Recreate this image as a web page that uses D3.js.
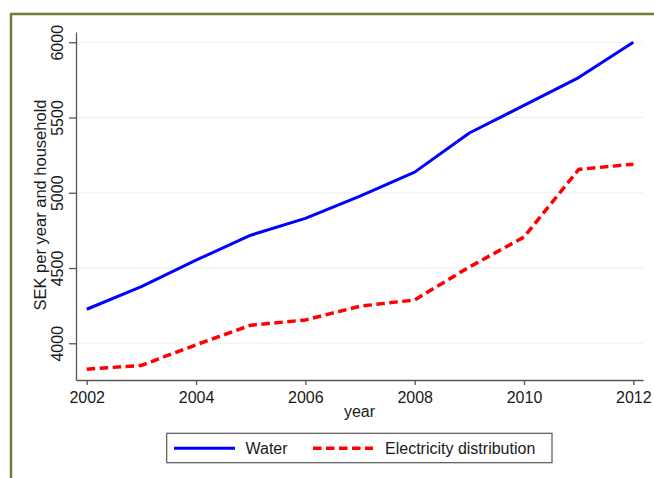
<!DOCTYPE html>
<html>
<head>
<meta charset="utf-8">
<script src="https://cdn.jsdelivr.net/npm/d3@7"></script>
<style>
  body { margin: 0; background: #fff; }
  text { font-family: "Liberation Sans", Arial, sans-serif; fill: #1a1a1a; }
</style>
</head>
<body>
<script>
// data
const years = [2002, 2003, 2004, 2005, 2006, 2007, 2008, 2009, 2010, 2011, 2012];
const water = [4226, 4376, 4552, 4718, 4830, 4978, 5137, 5397, 5580, 5765, 6000];
const electricity = [3828, 3853, 3990, 4120, 4155, 4246, 4288, 4507, 4706, 5155, 5190];
const xTicks = [2002, 2004, 2006, 2008, 2010, 2012];
const yTicks = [4000, 4500, 5000, 5500, 6000];
const seriesNames = ["Water", "Electricity distribution"];

const W = 654, H = 478;

const svg = d3.select("body")
  .append("svg")
  .attr("width", W)
  .attr("height", H);

// olive frame (cropped at right and bottom)
svg.append("rect")
  .attr("x", 11).attr("y", 14)
  .attr("width", 800).attr("height", 600)
  .attr("fill", "#fff")
  .attr("stroke", "#7a7a36")
  .attr("stroke-width", 2.5);

const x = d3.scaleLinear()
  .domain([2001.804, 2012.177])
  .range([76, 643]);

const y = d3.scaleLinear()
  .domain([3756, 6068])
  .range([380, 32]);

// gridlines
svg.append("g")
  .selectAll("line")
  .data(yTicks)
  .enter()
  .append("line")
  .attr("x1", 79).attr("x2", 643)
  .attr("y1", d => y(d)).attr("y2", d => y(d))
  .attr("stroke", "#e6f0f2")
  .attr("stroke-width", 1.2);

// x axis
const gx = svg.append("g")
  .attr("transform", "translate(0,380)")
  .call(d3.axisBottom(x).tickValues(xTicks).tickFormat(d3.format("d"))
    .tickSize(5).tickSizeOuter(0).tickPadding(6.3));
gx.select(".domain").attr("stroke", "#555").attr("stroke-width", 1.3);
gx.selectAll(".tick line").attr("stroke", "#555").attr("stroke-width", 1.3);
gx.selectAll("text").style("font-size", "16px").attr("fill", "#1a1a1a");

// y axis
const gy = svg.append("g")
  .attr("transform", "translate(76,0)")
  .call(d3.axisLeft(y).tickValues(yTicks).tickFormat(d3.format("d"))
    .tickSize(7).tickSizeOuter(0));
gy.select(".domain").attr("stroke", "#555").attr("stroke-width", 1.3);
gy.selectAll(".tick line").attr("stroke", "#555").attr("stroke-width", 1.3);
gy.selectAll("text")
  .style("font-size", "16px")
  .attr("fill", "#1a1a1a")
  .attr("transform", "rotate(-90)")
  .attr("x", 0)
  .attr("y", -13.3)
  .attr("dy", 0)
  .attr("text-anchor", "middle");

// axis titles
svg.append("text")
  .attr("x", 359.5)
  .attr("y", 416.7)
  .attr("text-anchor", "middle")
  .style("font-size", "16px")
  .text("year");

svg.append("text")
  .attr("transform", "translate(46,205) rotate(-90)")
  .attr("text-anchor", "middle")
  .style("font-size", "16.5px")
  .text("SEK per year and household");

// lines
const line = d3.line()
  .x((d, i) => x(years[i]))
  .y(d => y(d));

svg.append("path")
  .datum(water)
  .attr("fill", "none")
  .attr("stroke", "#0000ff")
  .attr("stroke-width", 3)
  .attr("stroke-linejoin", "round")
  .attr("d", line);

svg.append("path")
  .datum(electricity)
  .attr("fill", "none")
  .attr("stroke", "#ff0000")
  .attr("stroke-width", 3.5)
  .attr("stroke-dasharray", "8.5,4.5")
  .attr("d", line);

// legend
const lg = svg.append("g");
lg.append("rect")
  .attr("x", 166.7).attr("y", 433.3)
  .attr("width", 385.3).attr("height", 29.4)
  .attr("fill", "#fff")
  .attr("stroke", "#555")
  .attr("stroke-width", 1.2);

lg.append("line")
  .attr("x1", 174).attr("x2", 235)
  .attr("y1", 448.3).attr("y2", 448.3)
  .attr("stroke", "#0000ff").attr("stroke-width", 3);
lg.append("text")
  .attr("x", 245.5).attr("y", 454.3)
  .style("font-size", "16px")
  .text(seriesNames[0]);

lg.append("line")
  .attr("x1", 313).attr("x2", 373)
  .attr("y1", 448.3).attr("y2", 448.3)
  .attr("stroke", "#ff0000").attr("stroke-width", 3.5)
  .attr("stroke-dasharray", "8.5,4.5");
lg.append("text")
  .attr("x", 385).attr("y", 454.3)
  .style("font-size", "16px")
  .text(seriesNames[1]);
</script>
</body>
</html>
